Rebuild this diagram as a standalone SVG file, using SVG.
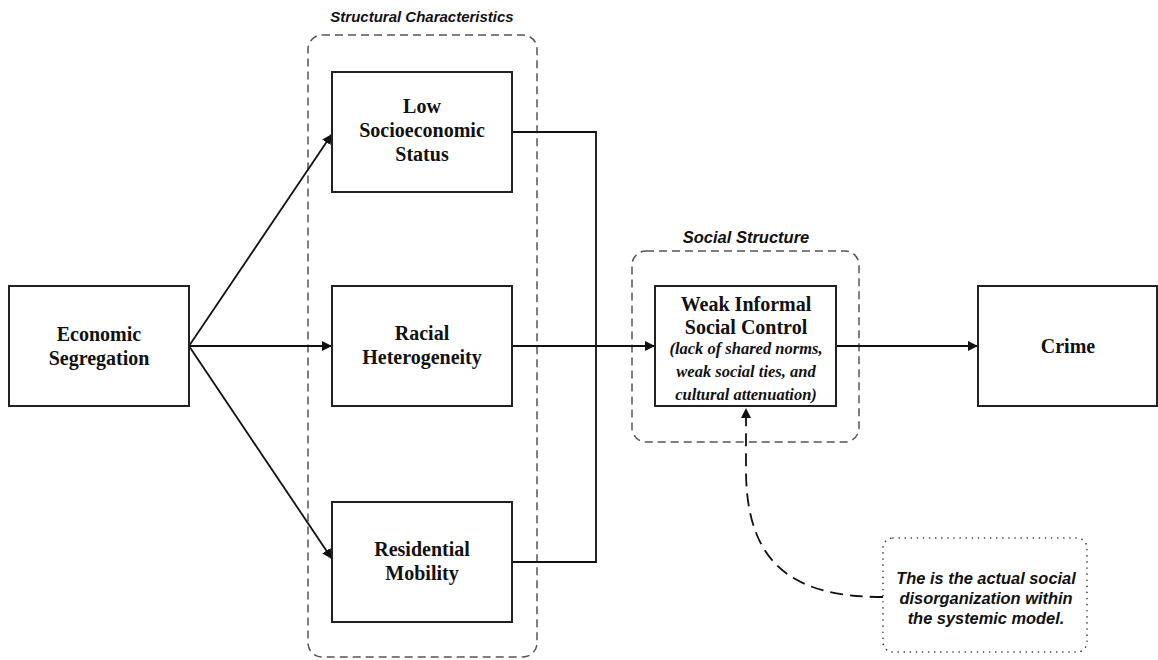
<svg xmlns="http://www.w3.org/2000/svg" width="1158" height="660" viewBox="0 0 1158 660">
<style>
.box{fill:#fff;stroke:#222;stroke-width:2}
.grp{fill:none;stroke:#555;stroke-width:1.5;stroke-dasharray:8 5}
.lbl{font-family:"Liberation Serif","Times New Roman",serif;font-weight:bold;font-size:20px;fill:#111;text-anchor:middle}
.sub{font-family:"Liberation Serif","Times New Roman",serif;font-weight:bold;font-style:italic;font-size:16.5px;fill:#111;text-anchor:middle}
.ttl{font-family:"Liberation Sans",Arial,sans-serif;font-weight:bold;font-style:italic;font-size:15px;fill:#111;text-anchor:middle}
.note{font-family:"Liberation Sans",Arial,sans-serif;font-weight:bold;font-style:italic;font-size:16.4px;fill:#111;text-anchor:middle}
.con{fill:none;stroke:#111;stroke-width:1.8}
</style>
<defs>
<marker id="ah" viewBox="0 0 10 10" refX="10" refY="5" markerWidth="10" markerHeight="10" markerUnits="userSpaceOnUse" orient="auto">
<path d="M0,0 L10,5 L0,10 z" fill="#111"/>
</marker>
</defs>

<g id="group-structural">
<rect class="grp" x="308" y="35" width="229" height="622" rx="14"/>
<text class="ttl" x="422" y="22">Structural Characteristics</text>
</g>
<g id="group-social">
<rect class="grp" x="632" y="251" width="227" height="191" rx="14"/>
<text class="ttl" x="746" y="243" style="font-size:16.5px">Social Structure</text>
</g>

<g id="connectors">
<line class="con" x1="189" y1="346" x2="332" y2="134" marker-end="url(#ah)"/>
<line class="con" x1="189" y1="346" x2="332" y2="346" marker-end="url(#ah)"/>
<line class="con" x1="189" y1="346" x2="332" y2="559" marker-end="url(#ah)"/>
<polyline class="con" points="512,132 596,132 596,562 512,562"/>
<line class="con" x1="512" y1="346" x2="655" y2="346" marker-end="url(#ah)"/>
<line class="con" x1="836" y1="346" x2="978" y2="346" marker-end="url(#ah)"/>
<path class="con" d="M883,597 C800,597 746,570 746,470 L746,408" stroke-width="2" stroke-dasharray="13 7" marker-end="url(#ah)"/>
</g>

<g id="economic-segregation">
<rect class="box" x="9" y="286" width="180" height="120"/>
<text class="lbl" x="99" y="341">Economic</text>
<text class="lbl" x="99" y="365">Segregation</text>
</g>
<g id="low-ses">
<rect class="box" x="332" y="72" width="180" height="120"/>
<text class="lbl" x="422" y="113">Low</text>
<text class="lbl" x="422" y="137">Socioeconomic</text>
<text class="lbl" x="422" y="161">Status</text>
</g>
<g id="racial-heterogeneity">
<rect class="box" x="332" y="286" width="180" height="120"/>
<text class="lbl" x="422" y="340">Racial</text>
<text class="lbl" x="422" y="364">Heterogeneity</text>
</g>
<g id="residential-mobility">
<rect class="box" x="332" y="502" width="180" height="120"/>
<text class="lbl" x="422" y="556">Residential</text>
<text class="lbl" x="422" y="580">Mobility</text>
</g>
<g id="weak-informal-social-control">
<rect class="box" x="655" y="286" width="181" height="120"/>
<text class="lbl" x="746" y="311">Weak Informal</text>
<text class="lbl" x="746" y="334">Social Control</text>
<text class="sub" x="746" y="354">(lack of shared norms,</text>
<text class="sub" x="746" y="377">weak social ties, and</text>
<text class="sub" x="746" y="400">cultural attenuation)</text>
</g>
<g id="crime">
<rect class="box" x="978" y="286" width="179" height="120"/>
<text class="lbl" x="1068" y="353">Crime</text>
</g>
<g id="note">
<rect x="883" y="538" width="204" height="114" rx="10" fill="#fff" stroke="#333" stroke-width="1.6" stroke-dasharray="0.1 6" stroke-linecap="round"/>
<text class="note" x="986" y="584">The is the actual social</text>
<text class="note" x="986" y="604">disorganization within</text>
<text class="note" x="986" y="624">the systemic model.</text>
</g>
</svg>
